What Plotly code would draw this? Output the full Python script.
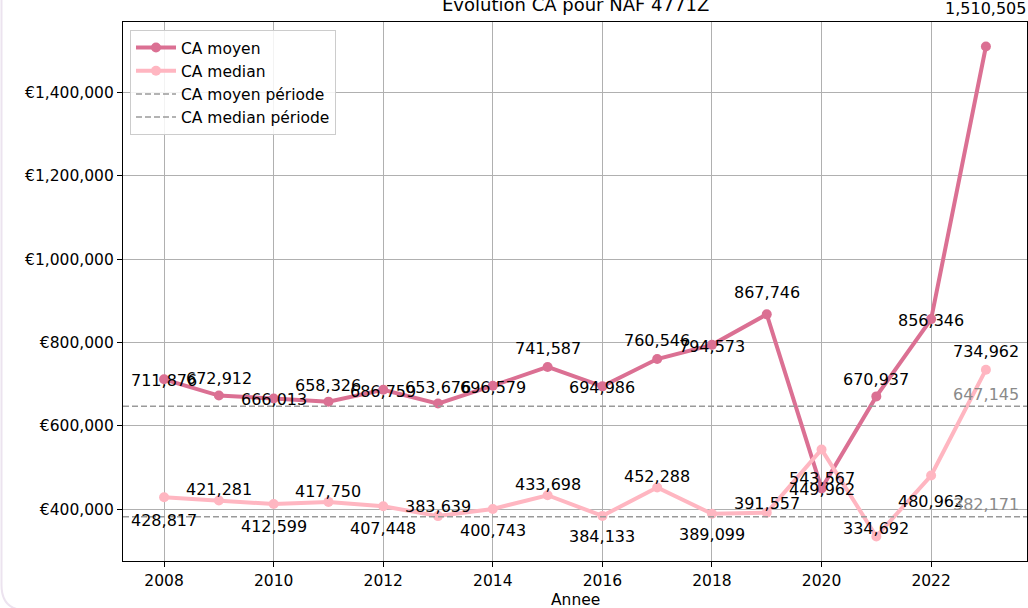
import plotly.graph_objects as go

# ---- data ----
years = [2008, 2009, 2010, 2011, 2012, 2013, 2014, 2015,
         2016, 2017, 2018, 2019, 2020, 2021, 2022, 2023]
ca_moyen = [711876, 672912, 666013, 658326, 686759, 653676, 696579, 741587,
            694986, 760546, 794573, 867746, 449962, 670937, 856346, 1510505]
ca_median = [428817, 421281, 412599, 417750, 407448, 383639, 400743, 433698,
             384133, 452288, 389099, 391557, 543567, 334692, 480962, 734962]
moyen_periode = 647145
median_periode = 382171
x_ticks = [2008, 2010, 2012, 2014, 2016, 2018, 2020, 2022]

title_text = "Evolution CA pour NAF 4771Z"
x_title = "Annee"

C_MOYEN = "#DB7093"
C_MEDIAN = "#FFB6C1"
FONT = "DejaVu Sans"
FS = 15.5
FS_LAB = 16

W, H = 1028, 608
ML, MR, MT, MB = 123, 1, 22, 47
PW, PH = W - ML - MR, H - MT - MB

all_vals = ca_moyen + ca_median
vmin, vmax = min(all_vals), max(all_vals)
ypad = 0.05 * (vmax - vmin)
y_range = [vmin - ypad, vmax + ypad]
xpad = 0.05 * (years[-1] - years[0])
x_range = [years[0] - xpad, years[-1] + xpad]
PX_PER_UNIT = PH / (y_range[1] - y_range[0])


def px_to_paper_x(px):
    return (px - ML) / PW


def px_to_paper_y(py):
    return (H - MB - py) / PH


fig = go.Figure()

fig.add_trace(go.Scatter(
    x=years, y=ca_moyen, mode="lines+markers", name="CA moyen",
    line=dict(color=C_MOYEN, width=4),
    marker=dict(color=C_MOYEN, size=10), cliponaxis=False,
))
fig.add_trace(go.Scatter(
    x=years, y=ca_median, mode="lines+markers", name="CA median",
    line=dict(color=C_MEDIAN, width=4),
    marker=dict(color=C_MEDIAN, size=10), cliponaxis=False,
))

# period reference lines (with legend entries)
for val, nm in [(moyen_periode, "CA moyen période"), (median_periode, "CA median période")]:
    fig.add_shape(type="line", xref="paper", x0=0, x1=1, yref="y", y0=val, y1=val,
                  line=dict(color="#9a9a9a", width=1.5, dash="6px,3px"),
                  showlegend=True, name=nm, layer="above")

annotations = []


def value_label(x, v, factor):
    return dict(x=x, y=v, xref="x", yref="y", text=f"{v:,}",
                showarrow=False, yanchor="middle",
                yshift=v * (factor - 1) * PX_PER_UNIT,
                font=dict(family=FONT, size=FS_LAB, color="black"))


# data labels
for i, (x, v) in enumerate(zip(years, ca_moyen)):
    annotations.append(value_label(x, v, 1.06 if i % 2 == 1 else 0.995))
for i, (x, v) in enumerate(zip(years, ca_median)):
    annotations.append(value_label(x, v, 1.06 if i % 2 == 1 else 0.87))
# period labels
for val in [moyen_periode, median_periode]:
    annotations.append(dict(x=years[-1], y=val, xref="x", yref="y", text=f"{val:,}",
                            showarrow=False, yanchor="middle", yshift=12,
                            font=dict(family=FONT, size=FS_LAB, color="#8a8a8a")))
# title and x-axis title
annotations.append(dict(x=0.5, y=px_to_paper_y(17), xref="paper", yref="paper",
                        text=title_text, showarrow=False, yanchor="bottom",
                        font=dict(family=FONT, size=18, color="black")))
annotations.append(dict(x=0.5, y=px_to_paper_y(600), xref="paper", yref="paper",
                        text=x_title, showarrow=False, yanchor="middle",
                        font=dict(family=FONT, size=FS, color="black")))

# faint screenshot frame at left edge
frame_path = (f"M {px_to_paper_x(1.5)},{px_to_paper_y(-5)} "
              f"L {px_to_paper_x(1.5)},{px_to_paper_y(585)} "
              f"Q {px_to_paper_x(1.5)},{px_to_paper_y(608)} {px_to_paper_x(22)},{px_to_paper_y(610)}")
fig.add_shape(type="path", xref="paper", yref="paper", path=frame_path,
              line=dict(color="#ece3ef", width=2), layer="below")

axis_common = dict(
    showgrid=True, gridcolor="#b0b0b0", gridwidth=1,
    showline=True, linecolor="black", linewidth=1.2, mirror=True,
    ticks="outside", ticklen=5, tickcolor="black", tickwidth=1.2,
    zeroline=False, automargin=False,
    tickfont=dict(family=FONT, size=FS, color="black"),
)

fig.update_layout(
    width=W, height=H,
    margin=dict(l=ML, r=MR, t=MT, b=MB, autoexpand=False),
    paper_bgcolor="white", plot_bgcolor="white",
    font=dict(family=FONT, size=FS, color="black"),
    xaxis=dict(range=x_range, tickvals=x_ticks, **axis_common),
    yaxis=dict(range=y_range, dtick=200000, tick0=0, tickprefix="€",
               tickformat=",d", **axis_common),
    legend=dict(x=px_to_paper_x(130), y=px_to_paper_y(30), xanchor="left", yanchor="top",
                bgcolor="rgba(255,255,255,0.85)", bordercolor="#cccccc", borderwidth=1,
                font=dict(family=FONT, size=FS, color="black"), itemwidth=40),
    annotations=annotations,
    showlegend=True,
)

fig.write_html(
    "out.html",
    config={"displayModeBar": False},
    post_script="document.body.style.margin='0';document.body.style.overflow='hidden';",
)
